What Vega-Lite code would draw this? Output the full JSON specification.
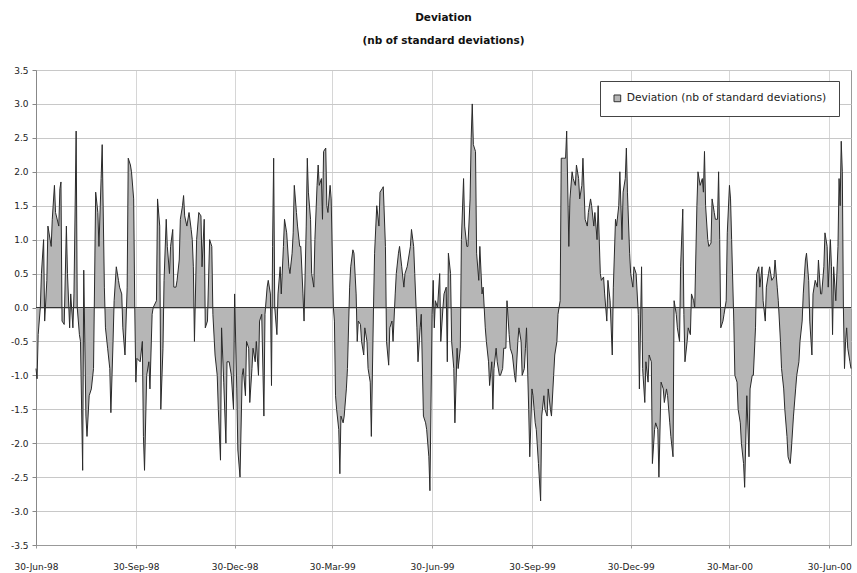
{
  "$schema": "https://vega.github.io/schema/vega-lite/v6.json",
  "width": 815,
  "height": 475,
  "autosize": {"type": "none"},
  "padding": {"left": 36, "top": 70, "right": 6, "bottom": 28},
  "background": "white",
  "config": {
    "view": {"stroke": "#9a9a9a", "strokeWidth": 1},
    "font": "DejaVu Sans"
  },
  "title": {
    "text": ["Deviation", "(nb of standard deviations)"],
    "font": "DejaVu Sans",
    "fontSize": 10.5,
    "fontWeight": "bold",
    "lineHeight": 23,
    "anchor": "middle",
    "offset": 20,
    "color": "#111"
  },
  "data": {
    "values": [
      {"d": "1998-06-30", "v": -0.9}, {"d": "1998-07-01", "v": -1.05}, {"d": "1998-07-02", "v": -0.4}, {"d": "1998-07-04", "v": 0.0},
      {"d": "1998-07-05", "v": 0.5}, {"d": "1998-07-07", "v": 1.0}, {"d": "1998-07-08", "v": -0.2}, {"d": "1998-07-10", "v": 0.4},
      {"d": "1998-07-11", "v": 1.2}, {"d": "1998-07-14", "v": 0.9}, {"d": "1998-07-15", "v": 1.3}, {"d": "1998-07-17", "v": 1.8},
      {"d": "1998-07-18", "v": 1.4}, {"d": "1998-07-21", "v": 1.2}, {"d": "1998-07-22", "v": 1.75}, {"d": "1998-07-23", "v": 1.85},
      {"d": "1998-07-24", "v": -0.2}, {"d": "1998-07-26", "v": -0.25}, {"d": "1998-07-28", "v": 1.2}, {"d": "1998-07-29", "v": 0.5},
      {"d": "1998-07-31", "v": -0.3}, {"d": "1998-08-01", "v": 0.2}, {"d": "1998-08-03", "v": -0.3}, {"d": "1998-08-04", "v": 0.2},
      {"d": "1998-08-06", "v": 2.6}, {"d": "1998-08-07", "v": 0.0}, {"d": "1998-08-09", "v": -0.4}, {"d": "1998-08-10", "v": -0.5},
      {"d": "1998-08-12", "v": -2.4}, {"d": "1998-08-13", "v": 0.55}, {"d": "1998-08-15", "v": -1.6}, {"d": "1998-08-16", "v": -1.9},
      {"d": "1998-08-18", "v": -1.3}, {"d": "1998-08-20", "v": -1.2}, {"d": "1998-08-22", "v": -0.9}, {"d": "1998-08-24", "v": 1.7},
      {"d": "1998-08-26", "v": 1.4}, {"d": "1998-08-27", "v": 0.9}, {"d": "1998-08-29", "v": 1.9}, {"d": "1998-08-30", "v": 2.4},
      {"d": "1998-09-01", "v": 0.3}, {"d": "1998-09-02", "v": -0.3}, {"d": "1998-09-04", "v": -0.6}, {"d": "1998-09-06", "v": -0.9},
      {"d": "1998-09-07", "v": -1.55}, {"d": "1998-09-09", "v": -0.5}, {"d": "1998-09-10", "v": 0.1}, {"d": "1998-09-12", "v": 0.6},
      {"d": "1998-09-14", "v": 0.4}, {"d": "1998-09-15", "v": 0.3}, {"d": "1998-09-17", "v": 0.2}, {"d": "1998-09-18", "v": -0.3},
      {"d": "1998-09-20", "v": -0.7}, {"d": "1998-09-22", "v": 0.3}, {"d": "1998-09-23", "v": 2.2}, {"d": "1998-09-25", "v": 2.1},
      {"d": "1998-09-26", "v": 2.0}, {"d": "1998-09-28", "v": 1.6}, {"d": "1998-09-29", "v": 0.0}, {"d": "1998-09-30", "v": -1.1},
      {"d": "1998-10-01", "v": -0.75}, {"d": "1998-10-04", "v": -0.8}, {"d": "1998-10-06", "v": -0.5}, {"d": "1998-10-07", "v": -1.9},
      {"d": "1998-10-08", "v": -2.4}, {"d": "1998-10-10", "v": -1.0}, {"d": "1998-10-12", "v": -0.8}, {"d": "1998-10-13", "v": -1.2},
      {"d": "1998-10-15", "v": -0.1}, {"d": "1998-10-16", "v": 0.0}, {"d": "1998-10-19", "v": 0.1}, {"d": "1998-10-20", "v": 1.6},
      {"d": "1998-10-22", "v": 1.2}, {"d": "1998-10-23", "v": -1.5}, {"d": "1998-10-25", "v": -0.6}, {"d": "1998-10-26", "v": 0.4},
      {"d": "1998-10-28", "v": 1.3}, {"d": "1998-10-29", "v": 0.9}, {"d": "1998-10-31", "v": 0.5}, {"d": "1998-11-01", "v": 0.9},
      {"d": "1998-11-03", "v": 1.15}, {"d": "1998-11-04", "v": 0.3}, {"d": "1998-11-06", "v": 0.3}, {"d": "1998-11-07", "v": 0.4},
      {"d": "1998-11-09", "v": 0.7}, {"d": "1998-11-10", "v": 1.3}, {"d": "1998-11-12", "v": 1.5}, {"d": "1998-11-13", "v": 1.65},
      {"d": "1998-11-14", "v": 1.35}, {"d": "1998-11-16", "v": 1.2}, {"d": "1998-11-18", "v": 1.4}, {"d": "1998-11-20", "v": 1.15},
      {"d": "1998-11-21", "v": 1.0}, {"d": "1998-11-22", "v": 0.6}, {"d": "1998-11-23", "v": -0.5}, {"d": "1998-11-25", "v": 1.0},
      {"d": "1998-11-27", "v": 1.4}, {"d": "1998-11-29", "v": 1.35}, {"d": "1998-11-30", "v": 0.6}, {"d": "1998-12-02", "v": 1.3},
      {"d": "1998-12-03", "v": -0.3}, {"d": "1998-12-05", "v": -0.2}, {"d": "1998-12-07", "v": 1.0}, {"d": "1998-12-09", "v": 0.9},
      {"d": "1998-12-10", "v": -0.1}, {"d": "1998-12-12", "v": -0.7}, {"d": "1998-12-14", "v": -1.0}, {"d": "1998-12-15", "v": -1.5},
      {"d": "1998-12-17", "v": -2.25}, {"d": "1998-12-18", "v": -0.3}, {"d": "1998-12-20", "v": -1.1}, {"d": "1998-12-22", "v": -2.0},
      {"d": "1998-12-23", "v": -0.8}, {"d": "1998-12-25", "v": -0.8}, {"d": "1998-12-27", "v": -1.0}, {"d": "1998-12-29", "v": -1.5},
      {"d": "1998-12-30", "v": 0.2}, {"d": "1999-01-01", "v": -1.2}, {"d": "1999-01-02", "v": -2.1}, {"d": "1999-01-04", "v": -2.5},
      {"d": "1999-01-06", "v": -1.0}, {"d": "1999-01-07", "v": -0.9}, {"d": "1999-01-09", "v": -1.3}, {"d": "1999-01-10", "v": -0.5},
      {"d": "1999-01-12", "v": -0.6}, {"d": "1999-01-13", "v": -1.4}, {"d": "1999-01-15", "v": -0.9}, {"d": "1999-01-16", "v": -0.6},
      {"d": "1999-01-18", "v": -0.8}, {"d": "1999-01-19", "v": -0.5}, {"d": "1999-01-21", "v": -1.0}, {"d": "1999-01-22", "v": -0.2},
      {"d": "1999-01-24", "v": -0.1}, {"d": "1999-01-26", "v": -1.6}, {"d": "1999-01-27", "v": -0.1}, {"d": "1999-01-29", "v": 0.3},
      {"d": "1999-01-30", "v": 0.4}, {"d": "1999-02-01", "v": 0.2}, {"d": "1999-02-02", "v": -1.15}, {"d": "1999-02-03", "v": 0.9},
      {"d": "1999-02-04", "v": 2.2}, {"d": "1999-02-05", "v": 0.0}, {"d": "1999-02-07", "v": -0.4}, {"d": "1999-02-08", "v": 0.2},
      {"d": "1999-02-10", "v": 0.6}, {"d": "1999-02-11", "v": 0.2}, {"d": "1999-02-13", "v": 0.9}, {"d": "1999-02-14", "v": 1.3},
      {"d": "1999-02-16", "v": 1.1}, {"d": "1999-02-18", "v": 0.6}, {"d": "1999-02-19", "v": 0.5}, {"d": "1999-02-21", "v": 0.8},
      {"d": "1999-02-22", "v": 1.1}, {"d": "1999-02-23", "v": 1.8}, {"d": "1999-02-25", "v": 1.4}, {"d": "1999-02-26", "v": 1.2},
      {"d": "1999-02-28", "v": 0.9}, {"d": "1999-03-01", "v": 0.9}, {"d": "1999-03-03", "v": 0.2}, {"d": "1999-03-04", "v": -0.2},
      {"d": "1999-03-06", "v": 1.2}, {"d": "1999-03-07", "v": 2.2}, {"d": "1999-03-08", "v": 1.7}, {"d": "1999-03-10", "v": 1.3},
      {"d": "1999-03-11", "v": 0.5}, {"d": "1999-03-13", "v": 0.3}, {"d": "1999-03-14", "v": 1.0}, {"d": "1999-03-16", "v": 1.8},
      {"d": "1999-03-17", "v": 2.1}, {"d": "1999-03-18", "v": 1.8}, {"d": "1999-03-20", "v": 1.9}, {"d": "1999-03-21", "v": 1.3},
      {"d": "1999-03-22", "v": 2.3}, {"d": "1999-03-24", "v": 2.35}, {"d": "1999-03-25", "v": 1.5}, {"d": "1999-03-26", "v": 1.4},
      {"d": "1999-03-28", "v": 1.8}, {"d": "1999-03-29", "v": 1.6}, {"d": "1999-03-31", "v": 0.0}, {"d": "1999-04-01", "v": -0.2},
      {"d": "1999-04-02", "v": -1.3}, {"d": "1999-04-03", "v": -1.5}, {"d": "1999-04-05", "v": -1.8}, {"d": "1999-04-06", "v": -2.45},
      {"d": "1999-04-07", "v": -1.6}, {"d": "1999-04-09", "v": -1.7}, {"d": "1999-04-10", "v": -1.6}, {"d": "1999-04-12", "v": -1.2},
      {"d": "1999-04-13", "v": -0.9}, {"d": "1999-04-15", "v": 0.3}, {"d": "1999-04-16", "v": 0.6}, {"d": "1999-04-18", "v": 0.85},
      {"d": "1999-04-19", "v": 0.8}, {"d": "1999-04-21", "v": 0.2}, {"d": "1999-04-22", "v": -0.5}, {"d": "1999-04-23", "v": -0.2},
      {"d": "1999-04-25", "v": -0.25}, {"d": "1999-04-26", "v": -0.5}, {"d": "1999-04-28", "v": -0.7}, {"d": "1999-04-29", "v": -0.3},
      {"d": "1999-05-01", "v": -0.5}, {"d": "1999-05-02", "v": -0.9}, {"d": "1999-05-04", "v": -1.1}, {"d": "1999-05-05", "v": -1.9},
      {"d": "1999-05-07", "v": 0.0}, {"d": "1999-05-08", "v": 0.8}, {"d": "1999-05-10", "v": 1.5}, {"d": "1999-05-12", "v": 1.2},
      {"d": "1999-05-13", "v": 1.7}, {"d": "1999-05-15", "v": 1.75}, {"d": "1999-05-16", "v": 1.78}, {"d": "1999-05-18", "v": 0.9},
      {"d": "1999-05-19", "v": -0.5}, {"d": "1999-05-21", "v": -0.85}, {"d": "1999-05-22", "v": -0.3}, {"d": "1999-05-24", "v": -0.2},
      {"d": "1999-05-25", "v": -0.5}, {"d": "1999-05-27", "v": 0.2}, {"d": "1999-05-28", "v": 0.5}, {"d": "1999-05-30", "v": 0.8},
      {"d": "1999-05-31", "v": 0.9}, {"d": "1999-06-02", "v": 0.6}, {"d": "1999-06-04", "v": 0.3}, {"d": "1999-06-05", "v": 0.5},
      {"d": "1999-06-07", "v": 0.6}, {"d": "1999-06-08", "v": 0.7}, {"d": "1999-06-10", "v": 0.9}, {"d": "1999-06-11", "v": 1.15},
      {"d": "1999-06-13", "v": 0.9}, {"d": "1999-06-14", "v": 0.5}, {"d": "1999-06-16", "v": -0.3}, {"d": "1999-06-17", "v": -0.8},
      {"d": "1999-06-19", "v": -0.3}, {"d": "1999-06-20", "v": -0.1}, {"d": "1999-06-22", "v": -1.6}, {"d": "1999-06-24", "v": -1.7},
      {"d": "1999-06-25", "v": -1.8}, {"d": "1999-06-27", "v": -2.2}, {"d": "1999-06-28", "v": -2.7}, {"d": "1999-06-30", "v": -0.1},
      {"d": "1999-07-01", "v": 0.4}, {"d": "1999-07-02", "v": -0.3}, {"d": "1999-07-03", "v": 0.1}, {"d": "1999-07-05", "v": 0.0},
      {"d": "1999-07-07", "v": 0.5}, {"d": "1999-07-08", "v": -0.5}, {"d": "1999-07-10", "v": 0.0}, {"d": "1999-07-11", "v": 0.2},
      {"d": "1999-07-13", "v": 0.3}, {"d": "1999-07-14", "v": -0.8}, {"d": "1999-07-15", "v": 0.8}, {"d": "1999-07-17", "v": 0.5},
      {"d": "1999-07-18", "v": -0.5}, {"d": "1999-07-20", "v": -0.9}, {"d": "1999-07-21", "v": -1.7}, {"d": "1999-07-23", "v": -0.6},
      {"d": "1999-07-24", "v": -0.9}, {"d": "1999-07-26", "v": -0.6}, {"d": "1999-07-27", "v": 1.0}, {"d": "1999-07-29", "v": 1.9},
      {"d": "1999-07-30", "v": 1.2}, {"d": "1999-08-01", "v": 0.9}, {"d": "1999-08-02", "v": 0.9}, {"d": "1999-08-04", "v": 1.6},
      {"d": "1999-08-05", "v": 2.5}, {"d": "1999-08-06", "v": 3.0}, {"d": "1999-08-07", "v": 2.4}, {"d": "1999-08-09", "v": 2.3},
      {"d": "1999-08-10", "v": 0.8}, {"d": "1999-08-12", "v": 0.4}, {"d": "1999-08-13", "v": 0.9}, {"d": "1999-08-15", "v": 0.2},
      {"d": "1999-08-16", "v": 0.3}, {"d": "1999-08-18", "v": -0.3}, {"d": "1999-08-19", "v": -0.5}, {"d": "1999-08-21", "v": -0.8},
      {"d": "1999-08-22", "v": -1.15}, {"d": "1999-08-24", "v": -0.8}, {"d": "1999-08-25", "v": -1.5}, {"d": "1999-08-26", "v": -0.9},
      {"d": "1999-08-28", "v": -0.6}, {"d": "1999-08-29", "v": -0.8}, {"d": "1999-08-31", "v": -1.0}, {"d": "1999-09-01", "v": -1.0},
      {"d": "1999-09-03", "v": -0.9}, {"d": "1999-09-04", "v": -0.6}, {"d": "1999-09-06", "v": -0.6}, {"d": "1999-09-07", "v": 0.1},
      {"d": "1999-09-09", "v": -0.4}, {"d": "1999-09-10", "v": -0.6}, {"d": "1999-09-12", "v": -0.7}, {"d": "1999-09-14", "v": -1.0},
      {"d": "1999-09-15", "v": -1.1}, {"d": "1999-09-17", "v": -0.5}, {"d": "1999-09-18", "v": -0.3}, {"d": "1999-09-20", "v": -0.5},
      {"d": "1999-09-21", "v": -1.0}, {"d": "1999-09-23", "v": -0.9}, {"d": "1999-09-24", "v": -0.6}, {"d": "1999-09-25", "v": -0.3},
      {"d": "1999-09-27", "v": -1.5}, {"d": "1999-09-28", "v": -2.2}, {"d": "1999-09-30", "v": -1.2}, {"d": "1999-10-01", "v": -1.3},
      {"d": "1999-10-03", "v": -1.7}, {"d": "1999-10-04", "v": -1.8}, {"d": "1999-10-06", "v": -2.3}, {"d": "1999-10-08", "v": -2.85},
      {"d": "1999-10-09", "v": -1.6}, {"d": "1999-10-11", "v": -1.3}, {"d": "1999-10-12", "v": -1.5}, {"d": "1999-10-14", "v": -1.6},
      {"d": "1999-10-15", "v": -1.2}, {"d": "1999-10-17", "v": -1.5}, {"d": "1999-10-18", "v": -1.6}, {"d": "1999-10-20", "v": -1.0},
      {"d": "1999-10-21", "v": -0.7}, {"d": "1999-10-23", "v": -0.5}, {"d": "1999-10-24", "v": -0.1}, {"d": "1999-10-26", "v": 0.1},
      {"d": "1999-10-27", "v": 2.2}, {"d": "1999-10-29", "v": 2.2}, {"d": "1999-10-31", "v": 2.2}, {"d": "1999-11-01", "v": 2.6},
      {"d": "1999-11-03", "v": 0.9}, {"d": "1999-11-04", "v": 1.6}, {"d": "1999-11-06", "v": 2.0}, {"d": "1999-11-07", "v": 1.9},
      {"d": "1999-11-09", "v": 1.8}, {"d": "1999-11-10", "v": 2.1}, {"d": "1999-11-12", "v": 1.9}, {"d": "1999-11-13", "v": 1.6},
      {"d": "1999-11-15", "v": 1.8}, {"d": "1999-11-16", "v": 2.2}, {"d": "1999-11-18", "v": 1.3}, {"d": "1999-11-20", "v": 1.2},
      {"d": "1999-11-21", "v": 1.4}, {"d": "1999-11-23", "v": 1.6}, {"d": "1999-11-24", "v": 1.5}, {"d": "1999-11-26", "v": 1.2},
      {"d": "1999-11-27", "v": 1.4}, {"d": "1999-11-29", "v": 1.0}, {"d": "1999-11-30", "v": 1.5}, {"d": "1999-12-02", "v": 0.5},
      {"d": "1999-12-03", "v": 0.4}, {"d": "1999-12-05", "v": 0.45}, {"d": "1999-12-06", "v": 0.2}, {"d": "1999-12-08", "v": -0.2},
      {"d": "1999-12-09", "v": 0.4}, {"d": "1999-12-11", "v": 0.1}, {"d": "1999-12-13", "v": -0.7}, {"d": "1999-12-14", "v": 0.3},
      {"d": "1999-12-16", "v": 1.3}, {"d": "1999-12-17", "v": 1.2}, {"d": "1999-12-19", "v": 1.5}, {"d": "1999-12-20", "v": 2.0},
      {"d": "1999-12-22", "v": 1.0}, {"d": "1999-12-23", "v": 1.7}, {"d": "1999-12-25", "v": 1.9}, {"d": "1999-12-26", "v": 2.35},
      {"d": "1999-12-27", "v": 1.7}, {"d": "1999-12-29", "v": 0.8}, {"d": "1999-12-30", "v": 0.5}, {"d": "2000-01-01", "v": 0.3},
      {"d": "2000-01-02", "v": 0.6}, {"d": "2000-01-04", "v": 0.5}, {"d": "2000-01-06", "v": -0.1}, {"d": "2000-01-07", "v": -1.2},
      {"d": "2000-01-09", "v": 0.6}, {"d": "2000-01-10", "v": -0.9}, {"d": "2000-01-12", "v": -1.4}, {"d": "2000-01-13", "v": -0.8},
      {"d": "2000-01-15", "v": -1.1}, {"d": "2000-01-16", "v": -0.7}, {"d": "2000-01-18", "v": -0.8}, {"d": "2000-01-19", "v": -2.3},
      {"d": "2000-01-21", "v": -1.8}, {"d": "2000-01-22", "v": -1.7}, {"d": "2000-01-24", "v": -1.8}, {"d": "2000-01-25", "v": -2.5},
      {"d": "2000-01-27", "v": -1.1}, {"d": "2000-01-29", "v": -1.2}, {"d": "2000-01-30", "v": -1.4}, {"d": "2000-02-01", "v": -1.2},
      {"d": "2000-02-02", "v": -1.3}, {"d": "2000-02-04", "v": -1.7}, {"d": "2000-02-05", "v": -1.9}, {"d": "2000-02-07", "v": -2.2},
      {"d": "2000-02-08", "v": 0.1}, {"d": "2000-02-10", "v": -0.1}, {"d": "2000-02-11", "v": -0.3}, {"d": "2000-02-13", "v": -0.5},
      {"d": "2000-02-14", "v": 0.6}, {"d": "2000-02-16", "v": 1.45}, {"d": "2000-02-17", "v": -0.1}, {"d": "2000-02-18", "v": -0.8},
      {"d": "2000-02-20", "v": -0.5}, {"d": "2000-02-21", "v": -0.3}, {"d": "2000-02-23", "v": -0.4}, {"d": "2000-02-24", "v": 0.2},
      {"d": "2000-02-26", "v": 0.1}, {"d": "2000-02-27", "v": 0.0}, {"d": "2000-02-29", "v": 1.5}, {"d": "2000-03-01", "v": 2.0},
      {"d": "2000-03-03", "v": 1.8}, {"d": "2000-03-05", "v": 1.9}, {"d": "2000-03-06", "v": 1.7}, {"d": "2000-03-07", "v": 2.3},
      {"d": "2000-03-08", "v": 1.5}, {"d": "2000-03-10", "v": 1.0}, {"d": "2000-03-11", "v": 0.9}, {"d": "2000-03-13", "v": 0.95},
      {"d": "2000-03-14", "v": 1.6}, {"d": "2000-03-16", "v": 1.4}, {"d": "2000-03-17", "v": 1.3}, {"d": "2000-03-19", "v": 1.3},
      {"d": "2000-03-20", "v": 2.0}, {"d": "2000-03-21", "v": 1.0}, {"d": "2000-03-22", "v": -0.3}, {"d": "2000-03-24", "v": -0.2},
      {"d": "2000-03-25", "v": -0.1}, {"d": "2000-03-27", "v": 0.1}, {"d": "2000-03-28", "v": 1.1}, {"d": "2000-03-30", "v": 1.8},
      {"d": "2000-03-31", "v": 1.6}, {"d": "2000-04-01", "v": 1.0}, {"d": "2000-04-03", "v": -0.2}, {"d": "2000-04-04", "v": -1.0},
      {"d": "2000-04-06", "v": -1.1}, {"d": "2000-04-07", "v": -1.5}, {"d": "2000-04-09", "v": -1.7}, {"d": "2000-04-10", "v": -2.0},
      {"d": "2000-04-12", "v": -2.3}, {"d": "2000-04-13", "v": -2.65}, {"d": "2000-04-15", "v": -1.3}, {"d": "2000-04-17", "v": -2.2},
      {"d": "2000-04-18", "v": -1.2}, {"d": "2000-04-20", "v": -1.0}, {"d": "2000-04-21", "v": -1.0}, {"d": "2000-04-23", "v": -0.3},
      {"d": "2000-04-24", "v": 0.5}, {"d": "2000-04-26", "v": 0.6}, {"d": "2000-04-27", "v": 0.3}, {"d": "2000-04-29", "v": 0.6},
      {"d": "2000-04-30", "v": 0.1}, {"d": "2000-05-02", "v": -0.2}, {"d": "2000-05-03", "v": 0.3}, {"d": "2000-05-05", "v": 0.5},
      {"d": "2000-05-06", "v": 0.6}, {"d": "2000-05-08", "v": 0.4}, {"d": "2000-05-10", "v": 0.45}, {"d": "2000-05-11", "v": 0.7},
      {"d": "2000-05-13", "v": 0.3}, {"d": "2000-05-14", "v": 0.1}, {"d": "2000-05-16", "v": -0.5}, {"d": "2000-05-17", "v": -0.9},
      {"d": "2000-05-19", "v": -1.2}, {"d": "2000-05-20", "v": -1.5}, {"d": "2000-05-22", "v": -1.9}, {"d": "2000-05-23", "v": -2.2},
      {"d": "2000-05-25", "v": -2.3}, {"d": "2000-05-26", "v": -2.1}, {"d": "2000-05-28", "v": -1.6}, {"d": "2000-05-30", "v": -1.2},
      {"d": "2000-05-31", "v": -1.0}, {"d": "2000-06-02", "v": -0.8}, {"d": "2000-06-03", "v": -0.5}, {"d": "2000-06-05", "v": -0.2},
      {"d": "2000-06-06", "v": 0.2}, {"d": "2000-06-08", "v": 0.7}, {"d": "2000-06-09", "v": 0.8}, {"d": "2000-06-11", "v": 0.4},
      {"d": "2000-06-12", "v": -0.2}, {"d": "2000-06-14", "v": -0.7}, {"d": "2000-06-15", "v": 0.2}, {"d": "2000-06-17", "v": 0.4},
      {"d": "2000-06-19", "v": 0.3}, {"d": "2000-06-20", "v": 0.7}, {"d": "2000-06-22", "v": 0.2}, {"d": "2000-06-23", "v": 0.2},
      {"d": "2000-06-25", "v": 0.6}, {"d": "2000-06-26", "v": 1.1}, {"d": "2000-06-28", "v": 0.9}, {"d": "2000-06-29", "v": 0.3},
      {"d": "2000-07-01", "v": 1.0}, {"d": "2000-07-02", "v": 0.6}, {"d": "2000-07-03", "v": -0.4}, {"d": "2000-07-04", "v": 0.6},
      {"d": "2000-07-06", "v": 0.1}, {"d": "2000-07-08", "v": 0.9}, {"d": "2000-07-09", "v": 1.9}, {"d": "2000-07-10", "v": 1.5},
      {"d": "2000-07-11", "v": 2.45}, {"d": "2000-07-12", "v": 2.0}, {"d": "2000-07-13", "v": 0.0}, {"d": "2000-07-14", "v": -0.9},
      {"d": "2000-07-15", "v": -0.5}, {"d": "2000-07-16", "v": -0.3}, {"d": "2000-07-17", "v": -0.6}, {"d": "2000-07-19", "v": -0.8},
      {"d": "2000-07-20", "v": -0.9}
    ]
  },
  "layer": [
    {
      "mark": {"type": "area", "interpolate": "linear", "opacity": 1},
      "encoding": {
        "x": {
          "field": "d", "type": "temporal", "title": null,
          "scale": {"type": "utc", "domain": [{"year": 1998, "month": 6, "date": 30, "utc": true}, {"year": 2000, "month": 7, "date": 20, "utc": true}], "nice": false},
          "axis": {
            "values": [
              {"year": 1998, "month": 6, "date": 30, "utc": true}, {"year": 1998, "month": 9, "date": 30, "utc": true},
              {"year": 1998, "month": 12, "date": 30, "utc": true}, {"year": 1999, "month": 3, "date": 30, "utc": true},
              {"year": 1999, "month": 6, "date": 30, "utc": true}, {"year": 1999, "month": 9, "date": 30, "utc": true},
              {"year": 1999, "month": 12, "date": 30, "utc": true}, {"year": 2000, "month": 3, "date": 30, "utc": true},
              {"year": 2000, "month": 6, "date": 30, "utc": true}
            ],
            "tickCount": 30,
            "labelExpr": "utcFormat(datum.value, '%d-%b-%y')",
            "labelFont": "DejaVu Sans", "labelFontSize": 9, "labelColor": "#222",
            "labelPadding": 14, "tickSize": 3, "tickColor": "#999",
            "domainColor": "#999", "grid": true, "gridColor": "#d6d6d6",
            "labelOverlap": false, "labelFlush": false
          }
        },
        "y": {
          "field": "v", "type": "quantitative", "title": null,
          "scale": {"domain": [-3.5, 3.5], "nice": false, "zero": false},
          "axis": {
            "values": [-3.5, -3, -2.5, -2, -1.5, -1, -0.5, 0, 0.5, 1, 1.5, 2, 2.5, 3, 3.5],
            "tickCount": 30,
            "labelExpr": "datum.value < 0 ? '-' + format(-datum.value, '.1f') : format(datum.value, '.1f')",
            "labelFont": "DejaVu Sans", "labelFontSize": 9, "labelColor": "#222",
            "labelPadding": 4, "tickSize": 4, "tickColor": "#888",
            "labelOverlap": false, "labelFlush": false,
            "domainColor": "#888", "grid": true, "gridColor": "#c8c8c8"
          }
        },
        "fill": {
          "datum": "Deviation (nb of standard deviations)",
          "scale": {"range": ["#b6b6b6"]},
          "legend": {
            "title": null, "orient": "none", "legendX": 564, "legendY": 11,
            "strokeColor": "#444", "fillColor": "white", "padding": 12,
            "symbolType": "square", "symbolSize": 45, "symbolStrokeColor": "#333", "symbolStrokeWidth": 1,
            "labelFont": "DejaVu Sans", "labelFontSize": 10.7, "labelColor": "#222", "labelLimit": 400
          }
        }
      }
    },
    {
      "mark": {"type": "line", "color": "#2a2a2a", "strokeWidth": 1, "interpolate": "linear"},
      "encoding": {
        "x": {"field": "d", "type": "temporal"},
        "y": {"field": "v", "type": "quantitative"}
      }
    },
    {
      "data": {"values": [{}]},
      "mark": {"type": "rule", "color": "#333", "strokeWidth": 1},
      "encoding": {"y": {"datum": 0}}
    }
  ]
}
